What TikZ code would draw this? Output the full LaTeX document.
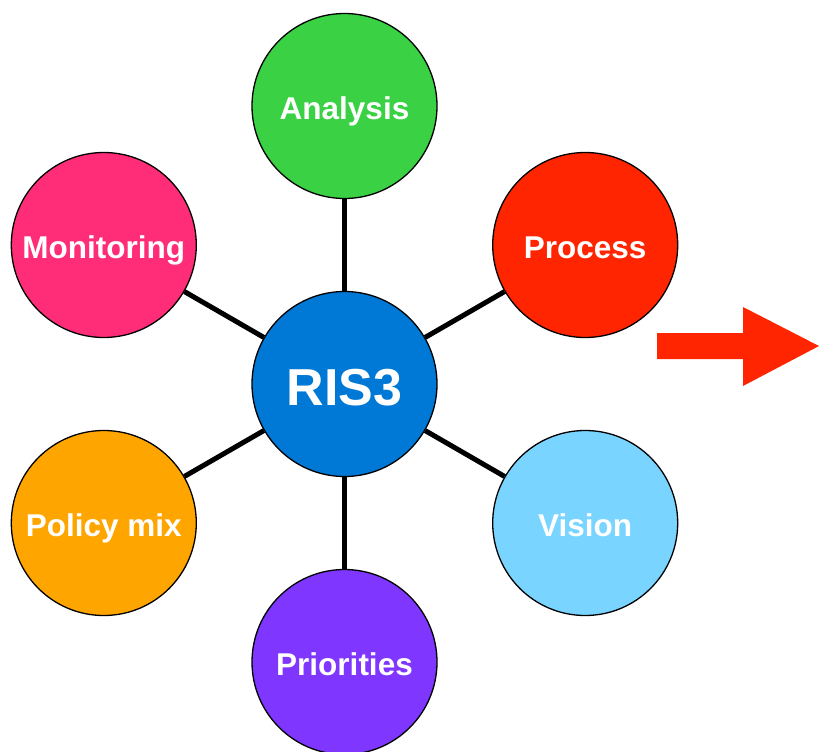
\documentclass[tikz,border=0pt]{standalone}
\usepackage{fontspec}
\setmainfont{Liberation Sans}
\definecolor{cgreen}{HTML}{3AD244}
\definecolor{cred}{HTML}{FF2500}
\definecolor{cpink}{HTML}{FF2D78}
\definecolor{cblue}{HTML}{0079D6}
\definecolor{clight}{HTML}{79D5FF}
\definecolor{corange}{HTML}{FFA500}
\definecolor{cpurple}{HTML}{7F36FF}
\newcommand{\lowr}[1]{\raisebox{-2.5pt}{#1}}
\begin{document}
\begin{tikzpicture}[x=1pt,y=-1pt,
  ball/.style={circle,draw=black,line width=1.3pt,minimum size=185pt,inner sep=0pt,
    text height=22.6pt,text depth=0pt,
    text=white,font=\bfseries\fontsize{31.5}{36}\selectfont},
  link/.style={line width=5pt,black}]
\useasboundingbox (0,0) rectangle (819,752);
\node[ball,fill=cblue,text height=37.2pt,font=\bfseries\fontsize{52}{60}\selectfont] (c) at (344.5,384) {\lowr{RIS3}};
\node[ball,fill=cgreen] (a) at (344.5,106) {\lowr{Analysis}};
\node[ball,fill=cred] (p) at (585.2,245) {\lowr{Process}};
\node[ball,fill=cpink] (m) at (103.8,245) {\lowr{Monitoring}};
\node[ball,fill=corange] (pm) at (103.8,523) {\lowr{Policy mix}};
\node[ball,fill=clight] (v) at (585.2,523) {\lowr{Vision}};
\node[ball,fill=cpurple] (pr) at (344.5,662) {\lowr{Priorities}};
\foreach \n in {a,p,m,pm,v,pr} \draw[link] (c) -- (\n);
\fill[cred] (657,333) -- (743,333) -- (743,307) -- (819,346) -- (743,386) -- (743,359) -- (657,359) -- cycle;
\end{tikzpicture}
\end{document}
